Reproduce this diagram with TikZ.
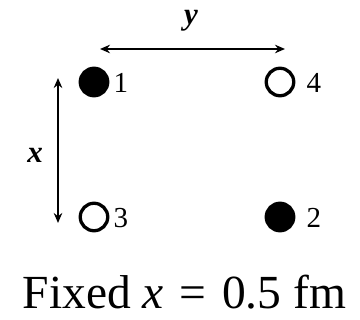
\documentclass[tikz,border=0pt]{standalone}
\usepackage{fontspec}
\setmainfont{Liberation Serif}
\usetikzlibrary{arrows.meta}
\begin{document}
\begin{tikzpicture}[x=1pt,y=-1pt,
  dot/.style={circle,draw=black,line width=3.3pt,minimum size=27.5pt,inner sep=0pt},
  full/.style={dot,fill=black},
  hollow/.style={dot,fill=white},
  num/.style={font=\fontsize{29}{32}\selectfont,inner sep=0pt},
  axislabel/.style={font=\fontsize{31}{34}\selectfont\bfseries\itshape,inner sep=0pt},
  dim/.style={{Stealth[length=10pt,width=8.5pt]}-{Stealth[length=10pt,width=8.5pt]},line width=1.6pt}]
\useasboundingbox (0,0) rectangle (360,320);
\node[full] (c1) at (94,82) {};
\node[hollow] (c4) at (280,82) {};
\node[hollow] (c3) at (94,217) {};
\node[full] (c2) at (280,217) {};
\node[num] (l1) at (121,83) {1};
\node[num] (l4) at (314,83) {4};
\node[num] (l3) at (121,218) {3};
\node[num] (l2) at (314,218) {2};
\coordinate (ya) at (100,49);
\coordinate (yb) at (285,49);
\coordinate (xa) at (58,78);
\coordinate (xb) at (58,223);
\draw[dim] (ya) -- (yb);
\draw[dim] (xa) -- (xb);
\node[axislabel] (ylab) at (191,21) {y};
\node[axislabel] (xlab) at (35,155) {x};
\node[font=\fontsize{47.5}{50}\selectfont,inner sep=0pt] (cap) at (184.5,292) {Fixed \textit{x}\hspace{0.33em}=\hspace{0.33em}0.5 fm};
\end{tikzpicture}
\end{document}
